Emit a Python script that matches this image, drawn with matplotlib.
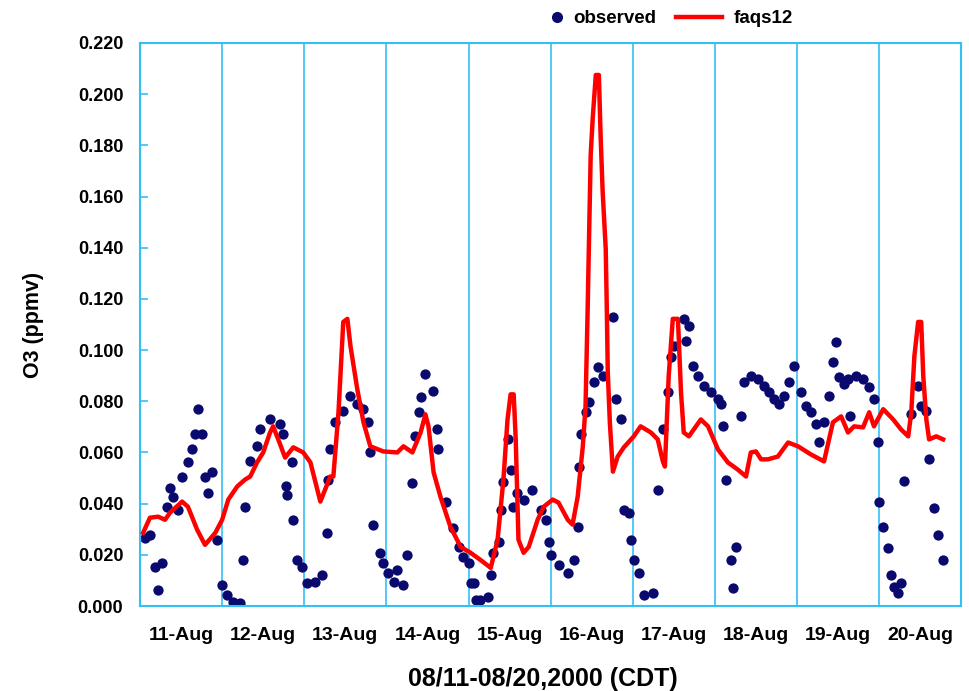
import matplotlib
matplotlib.use("Agg")
import matplotlib.pyplot as plt
from matplotlib.lines import Line2D
import numpy as np

# hours since 08/11 00:00 CDT, O3 in ppmv
obs_hour = [1.5, 2.9, 4.4, 5.3, 6.4, 7.9, 8.8, 9.7, 11.1, 12.3, 14.0, 15.2, 16.1, 17.0,
            18.1, 19.0, 19.9, 21.1, 22.5, 24.0, 25.5, 27.2, 29.3, 30.1, 30.7, 32.2,
            34.2, 35.1, 38.0, 41.0, 41.9, 42.6, 43.0, 44.5, 44.8, 46.0, 47.4, 48.9,
            51.2, 53.3, 54.7, 55.0, 55.6, 57.1, 59.4, 61.5, 63.5, 65.3, 66.7, 67.3,
            68.2, 70.2, 71.1, 72.6, 74.1, 75.2, 77.0, 78.1, 79.6, 80.5, 81.4, 82.0,
            83.4, 85.5, 86.9, 87.2, 89.3, 91.6, 93.1, 94.5, 96.0, 96.6, 97.5, 98.1,
            99.5, 101.6, 102.5, 103.3, 104.8, 105.5, 106.2, 107.4, 108.3, 108.9,
            110.3, 112.1, 114.7, 117.1, 118.5, 119.4, 120.0, 122.3, 125.0, 126.7,
            127.9, 128.2, 128.8, 130.2, 131.1, 132.6, 133.8, 135.2, 138.1, 139.0,
            140.5, 141.4, 142.8, 143.4, 144.3, 145.8, 147.2, 149.9, 151.3, 152.8,
            154.2, 155.1, 156.0, 158.9, 159.5, 160.4, 161.6, 163.0, 164.8, 166.8,
            168.9, 169.8, 170.3, 171.2, 172.7, 173.3, 174.2, 175.6, 176.5, 178.5,
            180.6, 182.3, 183.8, 185.3, 186.7, 188.2, 189.7, 191.1, 193.2, 194.6,
            196.1, 197.6, 198.4, 199.9, 201.4, 202.5, 203.4, 204.3, 205.8, 207.0,
            207.5, 209.3, 211.3, 213.1, 214.5, 215.7, 216.0, 217.2, 218.6, 219.5,
            220.4, 221.6, 222.4, 223.3, 225.4, 227.4, 228.3, 229.8, 230.6, 232.1,
            233.3, 234.7]
obs_o3 = [0.0267, 0.0278, 0.0153, 0.0063, 0.0169, 0.0388, 0.0463, 0.0427, 0.0376,
          0.0506, 0.0561, 0.0612, 0.0671, 0.0769, 0.0671, 0.0506, 0.0443, 0.0525,
          0.0259, 0.0082, 0.0043, 0.0016, 0.0012, 0.0180, 0.0388, 0.0565, 0.0624,
          0.0690, 0.0729, 0.0710, 0.0671, 0.0467, 0.0435, 0.0561, 0.0337, 0.0180,
          0.0153, 0.0090, 0.0094, 0.0122, 0.0286, 0.0494, 0.0612, 0.0718, 0.0761,
          0.0820, 0.0788, 0.0769, 0.0718, 0.0600, 0.0318, 0.0208, 0.0169, 0.0129,
          0.0094, 0.0141, 0.0082, 0.0200, 0.0482, 0.0663, 0.0757, 0.0816, 0.0906,
          0.0839, 0.0690, 0.0612, 0.0408, 0.0306, 0.0231, 0.0192, 0.0169, 0.0090,
          0.0090, 0.0024, 0.0024, 0.0035, 0.0122, 0.0208, 0.0251, 0.0376, 0.0486,
          0.0651, 0.0533, 0.0388, 0.0443, 0.0416, 0.0455, 0.0376, 0.0337, 0.0251,
          0.0200, 0.0161, 0.0129, 0.0180, 0.0310, 0.0545, 0.0671, 0.0757, 0.0796,
          0.0875, 0.0933, 0.0898, 0.1129, 0.0808, 0.0729, 0.0376, 0.0365, 0.0259,
          0.0180, 0.0129, 0.0043, 0.0051, 0.0455, 0.0690, 0.0835, 0.0973, 0.1016,
          0.1122, 0.1035, 0.1094, 0.0937, 0.0898, 0.0859, 0.0835, 0.0808, 0.0788,
          0.0702, 0.0494, 0.0180, 0.0071, 0.0231, 0.0741, 0.0875, 0.0898, 0.0886,
          0.0859, 0.0835, 0.0808, 0.0788, 0.0820, 0.0875, 0.0937, 0.0835, 0.0780,
          0.0757, 0.0710, 0.0639, 0.0718, 0.0820, 0.0953, 0.1031, 0.0894, 0.0867,
          0.0886, 0.0741, 0.0898, 0.0886, 0.0855, 0.0808, 0.0639, 0.0408, 0.0310,
          0.0227, 0.0122, 0.0075, 0.0051, 0.0090, 0.0490, 0.0749, 0.0859, 0.0780,
          0.0761, 0.0573, 0.0384, 0.0278, 0.0180]

mod_hour = [0.9, 2.9, 5.3, 7.3, 8.8, 12.3, 14.0, 16.7, 19.0, 22.0, 24.0, 25.8, 28.4,
            30.7, 32.2, 34.2, 36.0, 38.0, 38.9, 40.4, 42.4, 44.8, 47.7, 49.8, 52.7,
            55.6, 56.5, 58.0, 59.4, 60.6, 61.5, 63.5, 65.3, 67.3, 71.1, 75.2, 77.0,
            79.6, 82.0, 83.4, 84.3, 85.8, 87.8, 90.7, 93.7, 96.6, 99.5, 102.5, 104.5,
            106.2, 107.4, 108.3, 109.2, 109.8, 110.6, 112.1, 113.6, 116.2, 118.0,
            120.6, 122.3, 125.0, 126.4, 127.9, 129.4, 130.2, 130.8, 131.7, 132.3,
            133.2, 134.1, 134.6, 135.2, 136.1, 136.4, 136.7, 137.3, 138.2, 139.6,
            141.4, 144.3, 146.3, 149.3, 151.3, 152.8, 153.4, 154.5, 155.7, 157.2,
            158.1, 158.9, 160.4, 163.9, 166.0, 168.9, 171.8, 174.7, 177.1, 178.5,
            180.0, 181.5, 183.5, 186.4, 189.4, 192.3, 196.1, 199.9, 202.5, 204.9,
            206.9, 208.7, 211.3, 213.1, 214.5, 217.2, 220.1, 222.4, 224.5, 225.4,
            226.3, 227.4, 228.3, 228.9, 229.8, 230.6, 232.7, 234.7]
mod_o3 = [0.0286, 0.0345, 0.0349, 0.0337, 0.0365, 0.0408, 0.0388, 0.0298, 0.0239,
          0.0286, 0.0337, 0.0416, 0.0467, 0.0494, 0.0506, 0.0561, 0.0600, 0.0678,
          0.0702, 0.0651, 0.0580, 0.0620, 0.0600, 0.0561, 0.0408, 0.0506, 0.0506,
          0.0757, 0.1110, 0.1122, 0.1016, 0.0847, 0.0718, 0.0624, 0.0604, 0.0600,
          0.0624, 0.0600, 0.0678, 0.0749, 0.0702, 0.0522, 0.0427, 0.0310, 0.0231,
          0.0208, 0.0180, 0.0149, 0.0259, 0.0494, 0.0729, 0.0827, 0.0827, 0.0651,
          0.0259, 0.0208, 0.0231, 0.0337, 0.0388, 0.0416, 0.0404, 0.0337, 0.0318,
          0.0427, 0.0624, 0.0780, 0.1149, 0.1761, 0.1906, 0.2075, 0.2075, 0.1839,
          0.1620, 0.1396, 0.1173, 0.0914, 0.0718, 0.0525, 0.0584, 0.0620, 0.0663,
          0.0702, 0.0678, 0.0651, 0.0565, 0.0545, 0.0898, 0.1122, 0.1122, 0.0835,
          0.0678, 0.0663, 0.0729, 0.0702, 0.0612, 0.0561, 0.0533, 0.0506, 0.0600,
          0.0604, 0.0573, 0.0573, 0.0584, 0.0639, 0.0624, 0.0592, 0.0565, 0.0718,
          0.0741, 0.0678, 0.0702, 0.0698, 0.0757, 0.0702, 0.0769, 0.0729, 0.0690,
          0.0663, 0.0757, 0.0976, 0.1110, 0.1110, 0.0898, 0.0729, 0.0651, 0.0663,
          0.0651]

day_labels = ['11-Aug', '12-Aug', '13-Aug', '14-Aug', '15-Aug',
              '16-Aug', '17-Aug', '18-Aug', '19-Aug', '20-Aug']
y_ticks = np.arange(0, 0.2201, 0.02)

cyan = '#33C0F5'
navy = '#0A0A6E'
font = 'Liberation Sans'
bold = {'family': font, 'weight': 'bold'}

fig = plt.figure(figsize=(9.69, 6.91), dpi=100)
ax = fig.add_axes([0.1445, 0.123, 0.8475, 0.8148])

# day boundaries
for d in range(1, len(day_labels)):
    ax.axvline(d * 24, color=cyan, lw=1.2, zorder=0)

ax.scatter(obs_hour, obs_o3, s=55, color=navy, linewidths=0, zorder=2)
ax.plot(mod_hour, mod_o3, color='#FF0000', lw=3.2, zorder=3)

ax.set_xlim(0, 24 * len(day_labels))
ax.set_ylim(0, 0.22)
ax.set_xticks([24 * i + 12 for i in range(len(day_labels))])
ax.set_xticklabels(day_labels, fontdict=dict(bold, size=14))
ax.set_yticks(y_ticks)
ax.set_yticklabels([f'{v:.3f}' for v in y_ticks], fontdict=dict(bold, size=13))
ax.tick_params(axis='x', length=0, pad=15)
ax.tick_params(axis='y', direction='in', length=6, width=1.2, color=cyan, pad=12)
for sp in ax.spines.values():
    sp.set_color(cyan)
    sp.set_linewidth(1.5)

ax.set_ylabel('O3 (ppmv)', fontdict=dict(bold, size=15.5), labelpad=24)
ax.set_xlabel('08/11-08/20,2000 (CDT)', fontdict=dict(bold, size=18), labelpad=17)
ax.xaxis.label.set_x(0.49)

# two separate legends so each handle can have its own length
leg_prop = dict(bold, size=13.5)
h_obs = Line2D([], [], ls='none', marker='o', ms=7, color=navy)
h_mod = Line2D([], [], color='#FF0000', lw=3.2)
leg1 = fig.legend([h_obs], ['observed'], loc='center left',
                  bbox_to_anchor=(0.567, 0.973), frameon=False, prop=leg_prop,
                  handlelength=0.8, handletextpad=0.45, borderpad=0,
                  borderaxespad=0, numpoints=1)
leg2 = fig.legend([h_mod], ['faqs12'], loc='center left',
                  bbox_to_anchor=(0.6976, 0.973), frameon=False, prop=leg_prop,
                  handlelength=2.45, handletextpad=0.6, borderpad=0,
                  borderaxespad=0)

fig.savefig('out.png', dpi=100, facecolor='white')
